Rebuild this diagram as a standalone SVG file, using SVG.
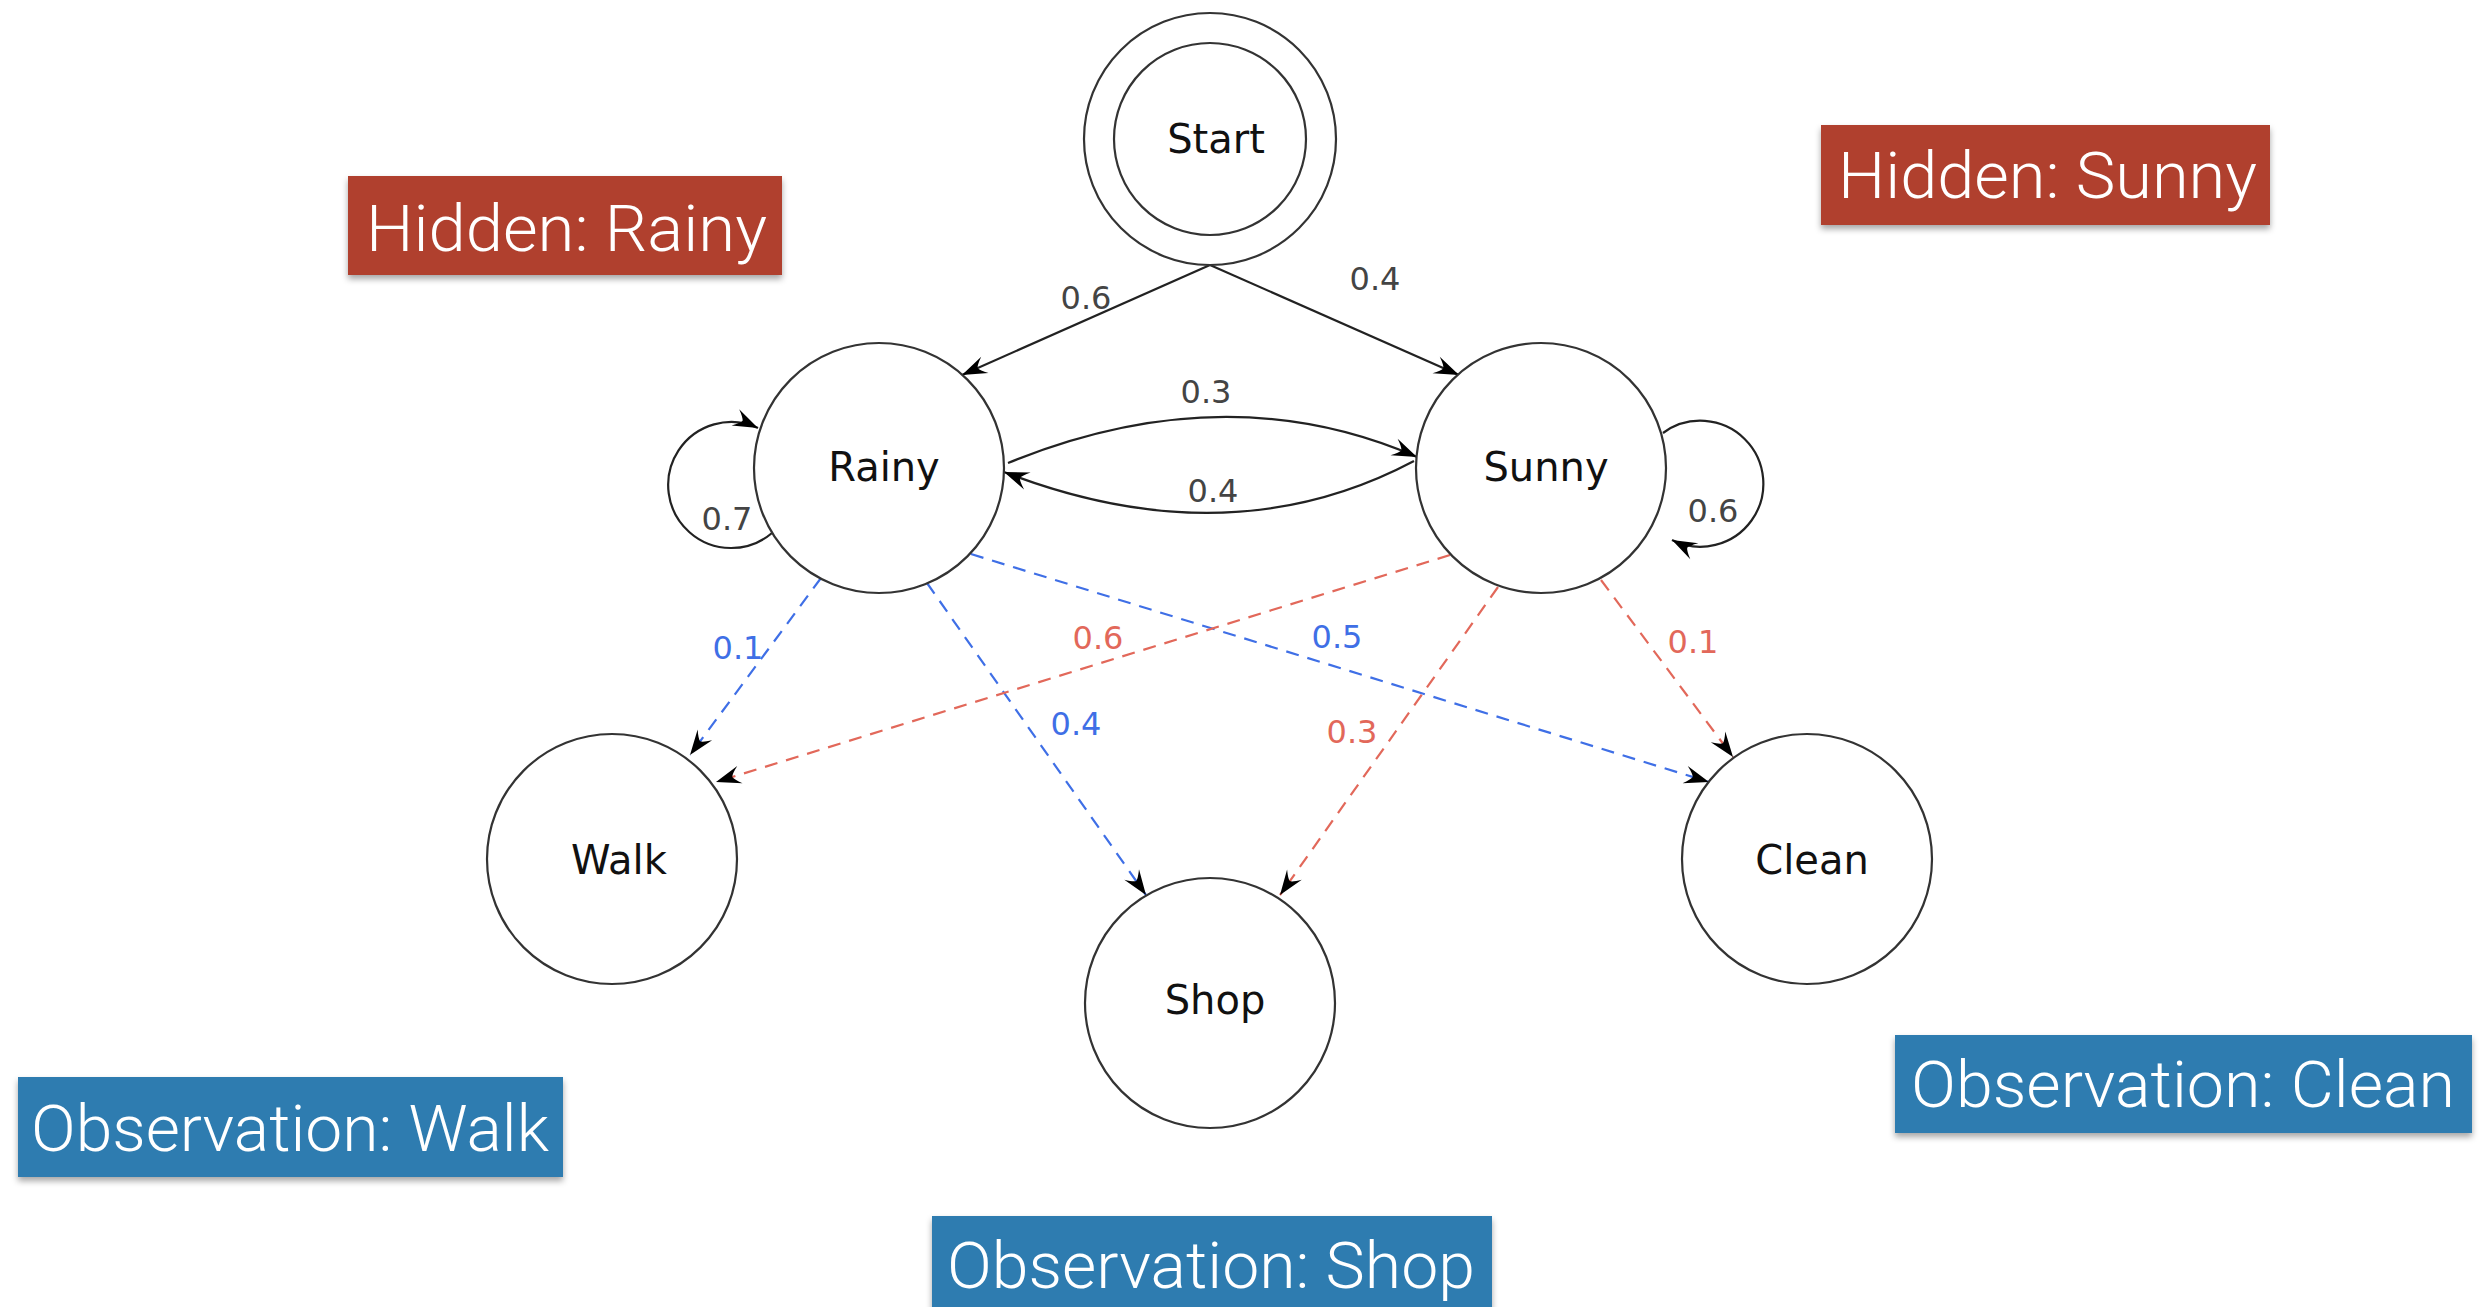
<svg xmlns="http://www.w3.org/2000/svg" width="2481" height="1307" viewBox="0 0 2481 1307">
<style>
.node{fill:#fff;stroke:#333;stroke-width:2.2}
.nlabel{font-family:"DejaVu Sans",sans-serif;font-size:40px;fill:#111;text-anchor:middle}
.elabel{font-family:"DejaVu Sans",sans-serif;font-size:32px;text-anchor:middle}
.solid{fill:none;stroke:#222;stroke-width:2.2}
.dash{fill:none;stroke-width:2.2;stroke-dasharray:13 9}
.blue{stroke:#3f6fe6}
.red{stroke:#e2685a}
.tagtext{font-family:"Helvetica Neue",Roboto,"Liberation Sans",sans-serif;font-weight:300;font-size:65px;fill:#fff}
</style>
<defs>
<marker id="ah" viewBox="-26 -11 28 22" refX="0" refY="0" markerWidth="28" markerHeight="22" markerUnits="userSpaceOnUse" orient="auto">
<path d="M0,0 L-25,-9 Q-18,-3 -17,0 Q-18,3 -25,9 Z" fill="#000"/>
</marker>
<filter id="sh" x="-10%" y="-20%" width="120%" height="150%">
<feDropShadow dx="0" dy="4" stdDeviation="3" flood-color="#000" flood-opacity="0.35"/>
</filter>
</defs>
<rect width="2481" height="1307" fill="#fff"/>

<g id="tags">
<g id="tag-hidden-rainy"><rect x="348" y="176" width="434" height="99" fill="#b0402f" filter="url(#sh)"/><text class="tagtext" x="366" y="251" textLength="401" lengthAdjust="spacingAndGlyphs">Hidden: Rainy</text></g>
<g id="tag-hidden-sunny"><rect x="1821" y="125" width="449" height="100" fill="#b0402f" filter="url(#sh)"/><text class="tagtext" x="1838" y="198" textLength="419" lengthAdjust="spacingAndGlyphs">Hidden: Sunny</text></g>
<g id="tag-obs-walk"><rect x="18" y="1077" width="545" height="100" fill="#2f7bb0" filter="url(#sh)"/><text class="tagtext" x="31" y="1151" textLength="518" lengthAdjust="spacingAndGlyphs">Observation: Walk</text></g>
<g id="tag-obs-shop"><rect x="932" y="1216" width="560" height="100" fill="#2f7bb0" filter="url(#sh)"/><text class="tagtext" x="947" y="1288" textLength="528" lengthAdjust="spacingAndGlyphs">Observation: Shop</text></g>
<g id="tag-obs-clean"><rect x="1895" y="1035" width="577" height="98" fill="#2f7bb0" filter="url(#sh)"/><text class="tagtext" x="1911" y="1107" textLength="544" lengthAdjust="spacingAndGlyphs">Observation: Clean</text></g>
</g>

<g id="connectors">
<path class="solid" d="M1210,265 L962,375" marker-end="url(#ah)"/>
<path class="solid" d="M1210,265 L1459,375" marker-end="url(#ah)"/>
<path class="solid" d="M1008,463 Q1226,374 1417,457" marker-end="url(#ah)"/>
<path class="solid" d="M1414,461 Q1229,559 1004,472" marker-end="url(#ah)"/>
<path class="solid" d="M772,533 A63,63 0 1 1 758,428" marker-end="url(#ah)"/>
<path class="solid" d="M1663,433 A63,63 0 1 1 1672,540" marker-end="url(#ah)"/>
<path class="dash blue" d="M821,578 L690,755" marker-end="url(#ah)"/>
<path class="dash blue" d="M927,583 L1146,895" marker-end="url(#ah)"/>
<path class="dash blue" d="M971,554 L1709,782" marker-end="url(#ah)"/>
<path class="dash red" d="M1450,555 L716,782" marker-end="url(#ah)"/>
<path class="dash red" d="M1498,587 L1280,895" marker-end="url(#ah)"/>
<path class="dash red" d="M1601,580 L1733,757" marker-end="url(#ah)"/>
<g class="elabel" fill="#444">
<text x="1086" y="309">0.6</text>
<text x="1375" y="290">0.4</text>
<text x="1206" y="403">0.3</text>
<text x="1213" y="502">0.4</text>
<text x="727" y="530">0.7</text>
<text x="1713" y="522">0.6</text>
</g>
<g class="elabel" fill="#3f6fe6">
<text x="738" y="659">0.1</text>
<text x="1076" y="735">0.4</text>
<text x="1337" y="648">0.5</text>
</g>
<g class="elabel" fill="#e2685a">
<text x="1098" y="649">0.6</text>
<text x="1352" y="743">0.3</text>
<text x="1693" y="653">0.1</text>
</g>
</g>

<g id="node-start"><circle class="node" cx="1210" cy="139" r="126"/><circle class="node" cx="1210" cy="139" r="96"/><text class="nlabel" x="1216" y="153">Start</text></g>
<g id="node-rainy"><circle class="node" cx="879" cy="468" r="125"/><text class="nlabel" x="884" y="481">Rainy</text></g>
<g id="node-sunny"><circle class="node" cx="1541" cy="468" r="125"/><text class="nlabel" x="1546" y="481">Sunny</text></g>
<g id="node-walk"><circle class="node" cx="612" cy="859" r="125"/><text class="nlabel" x="619" y="874">Walk</text></g>
<g id="node-shop"><circle class="node" cx="1210" cy="1003" r="125"/><text class="nlabel" x="1215" y="1014">Shop</text></g>
<g id="node-clean"><circle class="node" cx="1807" cy="859" r="125"/><text class="nlabel" x="1812" y="874">Clean</text></g>
</svg>
